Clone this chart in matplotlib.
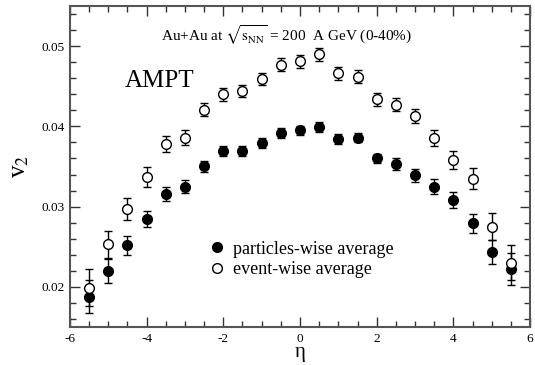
import matplotlib
matplotlib.use('Agg')
import matplotlib.pyplot as plt
from matplotlib.lines import Line2D
from matplotlib.ticker import MultipleLocator

plt.rcParams['font.family'] = ['Liberation Serif', 'DejaVu Serif']
plt.rcParams['mathtext.fontset'] = 'stix'
plt.rcParams['axes.unicode_minus'] = False

eta = [-5.5, -5.0, -4.5, -4.0, -3.5, -3.0, -2.5, -2.0, -1.5, -1.0, -0.5, 0.0,
       0.5, 1.0, 1.5, 2.0, 2.5, 3.0, 3.5, 4.0, 4.5, 5.0, 5.5]

v2_particle = [0.0188, 0.0220, 0.0252, 0.0285, 0.0316, 0.0325, 0.0350, 0.0369,
               0.0369, 0.0379, 0.0392, 0.0395, 0.0399, 0.0384, 0.0386, 0.0360,
               0.0353, 0.0339, 0.0325, 0.0308, 0.0279, 0.0244, 0.0222]
err_particle = [0.0020, 0.0015, 0.0012, 0.0010, 0.0009, 0.0008, 0.0007, 0.0006,
                0.0006, 0.0006, 0.0006, 0.0006, 0.0006, 0.0006, 0.0006, 0.0006,
                0.0007, 0.0008, 0.0009, 0.0010, 0.0012, 0.0015, 0.0020]

v2_event = [0.0199, 0.0253, 0.0297, 0.0337, 0.0378, 0.0386, 0.0421, 0.0440,
            0.0444, 0.0459, 0.0477, 0.0481, 0.0490, 0.0466, 0.0462, 0.0434,
            0.0427, 0.0413, 0.0386, 0.0358, 0.0335, 0.0275, 0.0230]
err_event = [0.0023, 0.0017, 0.0014, 0.0012, 0.0010, 0.0009, 0.0008, 0.0008,
             0.0008, 0.0008, 0.0008, 0.0008, 0.0008, 0.0008, 0.0008, 0.0008,
             0.0008, 0.0009, 0.0010, 0.0011, 0.0013, 0.0017, 0.0022]

fig = plt.figure(figsize=(5.35, 3.65), dpi=100)
ax = fig.add_axes([0.1308, 0.1041, 0.8599, 0.8795])

ax.errorbar(eta, v2_particle, yerr=err_particle, fmt='o', color='black',
            ms=7, capsize=3, elinewidth=1, capthick=1)
ax.errorbar(eta, v2_event, yerr=err_event, fmt='o', color='black', mfc='white',
            ms=7, mew=1, capsize=3, elinewidth=1, capthick=1)

ax.set_xlim(-6, 6)
ax.set_ylim(0.015, 0.055)
ax.xaxis.set_major_locator(MultipleLocator(2))
ax.xaxis.set_minor_locator(MultipleLocator(0.5))
ax.yaxis.set_major_locator(MultipleLocator(0.01))
ax.yaxis.set_minor_locator(MultipleLocator(0.002))
ax.tick_params(which='both', direction='in', top=True, right=True,
               labeltop=False, labelright=False, color='#333333', width=1)
ax.tick_params(which='major', length=7, labelsize=9.5)
ax.tick_params(which='minor', length=4)
ax.tick_params(axis='x', pad=4)
for s in ax.spines.values():
    s.set_color('#555555')
    s.set_linewidth(1.5)

ax.set_xlabel("η", fontsize=15, labelpad=-1)
ax.set_ylabel(r"v$_2$", fontsize=18, labelpad=8)

ax.text(0.47, 0.91, r"Au+Au at $\sqrt{\mathrm{s}_{\mathrm{NN}}}$ = 200  A GeV (0-40%)",
        transform=ax.transAxes, ha='center', va='center', fontsize=11)
ax.text(0.12, 0.765, "AMPT", transform=ax.transAxes, ha='left', va='center',
        fontsize=18)

handles = [Line2D([], [], ls='none', marker='o', color='black', ms=7),
           Line2D([], [], ls='none', marker='o', color='black', mfc='white', ms=7)]
ax.legend(handles, ["particles-wise average", "event-wise average"],
          loc='center left', bbox_to_anchor=(0.28, 0.21), frameon=False,
          fontsize=13, handletextpad=0.3, handlelength=1.2, labelspacing=0.2,
          borderaxespad=0)

fig.savefig('out.png', dpi=100)
